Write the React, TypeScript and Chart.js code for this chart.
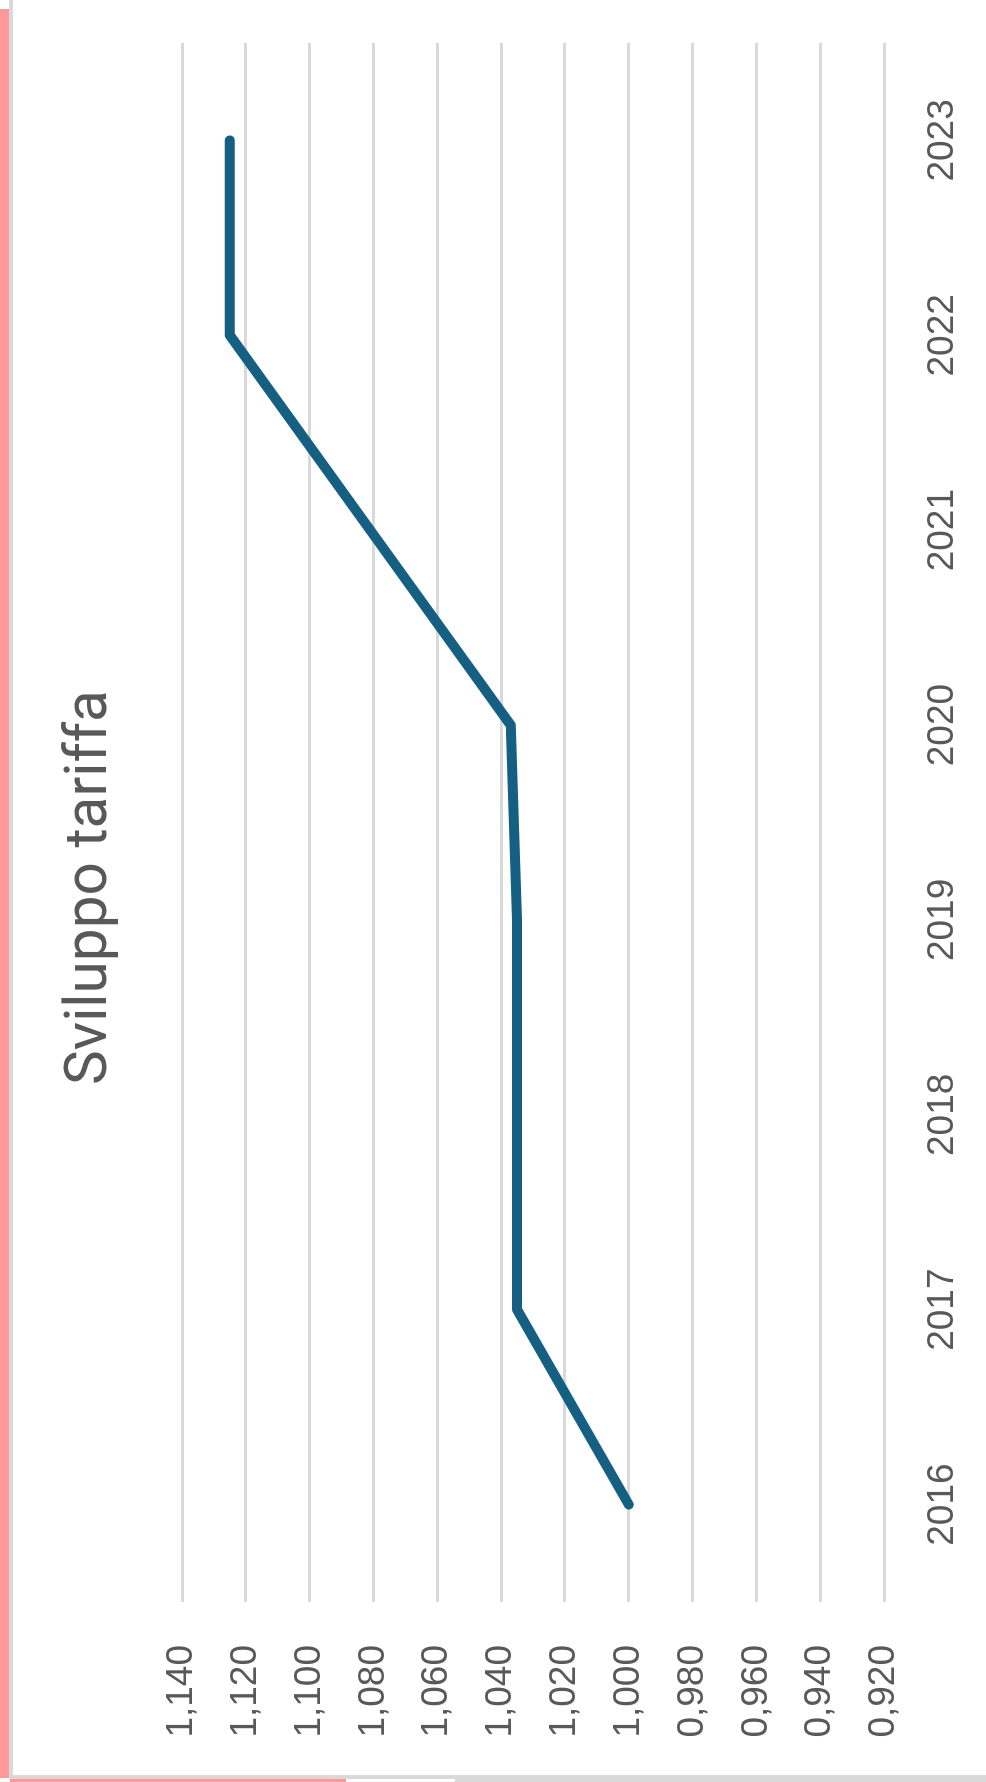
import React, { useEffect, useRef } from "react";
import { Chart, registerables } from "chart.js";

Chart.register(...registerables);

// ---- data ----
const categories = ["2016", "2017", "2018", "2019", "2020", "2021", "2022", "2023"];
const tariffValues = [1.0, 1.035, 1.035, 1.035, 1.037, 1.081, 1.125, 1.125];
const valueMin = 0.92;
const valueMax = 1.14;
const valueStep = 0.02;
const chartTitle = "Sviluppo tariffa";

// unrotated chart box (it is shown rotated by -90deg)
const BOX_W = 1775;
const BOX_H = 973;

export default function App() {
  const ref = useRef<HTMLCanvasElement | null>(null);

  useEffect(() => {
    if (!ref.current) return;
    const chart = new Chart(ref.current, {
      type: "line",
      data: {
        labels: categories,
        datasets: [
          {
            data: tariffValues,
            borderColor: "#156082",
            backgroundColor: "#156082",
            borderWidth: 10,
            pointRadius: 0,
            pointHoverRadius: 0,
            tension: 0,
            fill: false,
            borderCapStyle: "round",
            borderJoinStyle: "round",
          },
        ],
      },
      options: {
        animation: false,
        responsive: false,
        devicePixelRatio: 1,
        layout: { padding: { left: 0, right: 0, top: 0, bottom: 0 } },
        plugins: {
          legend: { display: false },
          tooltip: { enabled: false },
          title: {
            display: true,
            text: chartTitle,
            color: "#595959",
            font: { family: "Roboto", size: 58.5, weight: "normal", lineHeight: 1.2 },
            padding: { top: 43, bottom: 55.8 },
          },
        },
        scales: {
          x: {
            type: "category",
            offset: true,
            grid: { display: false, drawTicks: false },
            border: { display: false },
            ticks: {
              color: "#595959",
              font: { family: "Liberation Sans", size: 37 },
              padding: 37,
              maxRotation: 0,
              minRotation: 0,
              autoSkip: false,
            },
            afterFit: (s: any) => {
              s.height = 102;
            },
          },
          y: {
            position: "left",
            min: valueMin,
            max: valueMax,
            grid: { color: "#d9d9d9", lineWidth: 3, drawTicks: false },
            border: { display: false },
            ticks: {
              stepSize: valueStep,
              color: "#595959",
              font: { family: "Liberation Sans", size: 37 },
              padding: 43,
              callback: (v: any) => Number(v).toFixed(3).replace(".", ","),
            },
            afterFit: (s: any) => {
              s.width = 173;
            },
          },
          yRightSpace: {
            type: "linear",
            position: "right",
            grid: { display: false, drawTicks: false },
            border: { display: false },
            ticks: { display: false },
            afterFit: (s: any) => {
              s.width = 43;
            },
          },
        },
      },
    });
    return () => chart.destroy();
  }, []);

  return (
    <div
      style={{
        position: "absolute",
        left: 0,
        top: 0,
        width: 986,
        height: 1782,
        overflow: "hidden",
        background: "#ffffff",
      }}
    >
      {/* frame pieces */}
      <div style={{ position: "absolute", left: 0, top: 9, width: 9, height: 1769, background: "#ff9999" }} />
      <div style={{ position: "absolute", left: 9, top: 0, width: 4, height: 1779, background: "#d9d9d9" }} />
      <div style={{ position: "absolute", left: 9, top: 1775, width: 977, height: 4, background: "#d9d9d9" }} />
      <div style={{ position: "absolute", left: 10, top: 1779, width: 336, height: 3, background: "#ff9999" }} />
      <div style={{ position: "absolute", left: 455, top: 1779, width: 531, height: 3, background: "#d9d9d9" }} />
      <div
        style={{
          position: "absolute",
          left: 13,
          top: 0,
          width: BOX_W,
          height: BOX_H,
          transformOrigin: "0 0",
          transform: `translateY(${BOX_W}px) rotate(-90deg)`,
          background: "#ffffff",
        }}
      >
        <canvas
          ref={ref}
          width={BOX_W}
          height={BOX_H}
          style={{ display: "block", width: BOX_W, height: BOX_H }}
        />
      </div>
    </div>
  );
}
